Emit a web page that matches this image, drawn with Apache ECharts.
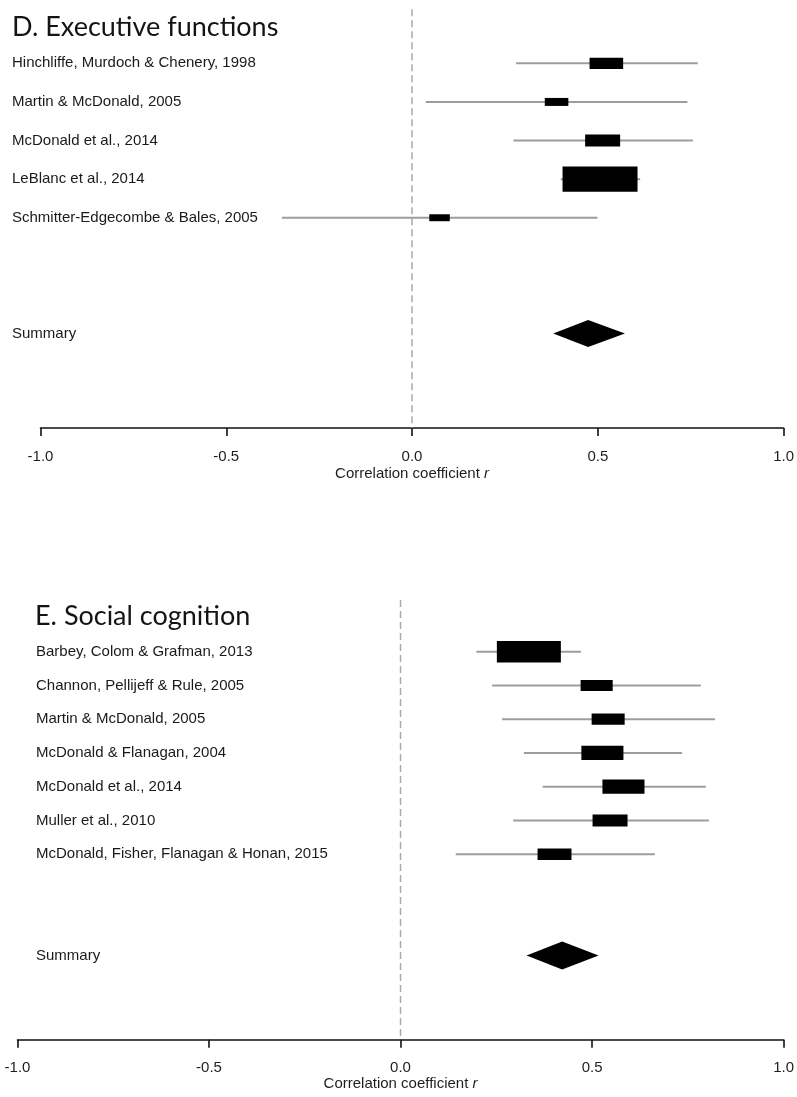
<!DOCTYPE html>
<html>
<head>
<meta charset="utf-8">
<script src="https://cdn.jsdelivr.net/npm/echarts@6/dist/echarts.min.js"></script>
<style>
html,body{margin:0;padding:0;background:#fff;}
#c{width:797px;height:1097px;}
</style>
</head>
<body>
<div id="c"></div>
<script>
// ---------------- DATA ----------------
const xTicks = [-1.0, -0.5, 0.0, 0.5, 1.0];
const panelTitles = ['D. Executive functions', 'E. Social cognition'];
const axisTitleText = 'Correlation coefficient ';
const axisTitleVar = 'r';
const summaryLabel = 'Summary';

// Panel D: Executive functions
const execStudies = [
  'Hinchliffe, Murdoch & Chenery, 1998',
  'Martin & McDonald, 2005',
  'McDonald et al., 2014',
  'LeBlanc et al., 2014',
  'Schmitter-Edgecombe & Bales, 2005'
];
const execEst = [0.523, 0.389, 0.513, 0.506, 0.074];
const execLo  = [0.280, 0.037, 0.273, 0.400, -0.350];
const execHi  = [0.769, 0.741, 0.756, 0.614, 0.499];
const execWeight = [12.6, 6.2, 13.7, 62.8, 4.7];
const execSummaryEst = 0.474;
const execSummaryLo = 0.380;
const execSummaryHi = 0.573;

// Panel E: Social cognition
const socStudies = [
  'Barbey, Colom & Grafman, 2013',
  'Channon, Pellijeff & Rule, 2005',
  'Martin & McDonald, 2005',
  'McDonald & Flanagan, 2004',
  'McDonald et al., 2014',
  'Muller et al., 2010',
  'McDonald, Fisher, Flanagan & Honan, 2015'
];
const socEst = [0.335, 0.512, 0.542, 0.527, 0.582, 0.547, 0.402];
const socLo  = [0.198, 0.239, 0.265, 0.322, 0.371, 0.294, 0.144];
const socHi  = [0.471, 0.784, 0.821, 0.735, 0.797, 0.805, 0.664];
const socWeight = [33.8, 8.5, 9.0, 14.6, 14.6, 10.1, 9.5];
const socSummaryEst = 0.422;
const socSummaryLo = 0.329;
const socSummaryHi = 0.517;

// ---------------- STYLE / LAYOUT ----------------
const LABEL_FONT = "'Liberation Sans', Arial, Helvetica, sans-serif";
const TITLE_FONT = "Lato, 'Open Sans', sans-serif";
const BOX_ASPECT = 2.95;

const panels = [
  {
    title: panelTitles[0], names: execStudies, est: execEst, lo: execLo, hi: execHi, w: execWeight,
    sEst: execSummaryEst, sLo: execSummaryLo, sHi: execSummaryHi,
    grid: { left: 40.5, right: 12, top: 9.3, height: 418.8 },
    yMin: -1.4, yMax: 9.45, labelX: 12, titleX: 12, titleY: 27, boxMax: 75, diamondHalf: 13.5,
    labelMargin: 21, nameGap: 38.5
  },
  {
    title: panelTitles[1], names: socStudies, est: socEst, lo: socLo, hi: socHi, w: socWeight,
    sEst: socSummaryEst, sLo: socSummaryLo, sHi: socSummaryHi,
    grid: { left: 17.5, right: 10, top: 600.1, height: 439.7 },
    yMin: -1.53, yMax: 11.5, labelX: 36, titleX: 35, titleY: 616.5, boxMax: 64, diamondHalf: 14,
    labelMargin: 21, nameGap: 37
  }
];

const grids = [], xAxes = [], yAxes = [], series = [], graphics = [];

panels.forEach((p, pi) => {
  grids.push(p.grid);
  xAxes.push({
    gridIndex: pi, type: 'value', min: -1, max: 1, interval: 0.5,
    axisLine: { show: true, onZero: false, lineStyle: { color: '#111', width: 1.6 } },
    axisTick: { show: true, length: 8, customValues: xTicks, lineStyle: { color: '#111', width: 1.6 } },
    axisLabel: {
      customValues: xTicks, formatter: v => Number(v).toFixed(1), margin: p.labelMargin,
      fontFamily: LABEL_FONT, fontSize: 15, color: '#1e1e1e', showMinLabel: true, showMaxLabel: true
    },
    splitLine: { show: false },
    name: '{a|' + axisTitleText + '}{b|' + axisTitleVar + '}',
    nameLocation: 'middle', nameGap: p.nameGap,
    nameTextStyle: {
      rich: {
        a: { fontFamily: LABEL_FONT, fontSize: 15, color: '#1e1e1e' },
        b: { fontFamily: LABEL_FONT, fontSize: 15, color: '#1e1e1e', fontStyle: 'italic' }
      }
    }
  });
  yAxes.push({ gridIndex: pi, type: 'value', min: p.yMin, max: p.yMax, inverse: true, show: false });

  const n = p.names.length;
  const summaryRow = n + 2;
  const wMax = Math.max(...p.w);

  // zero reference line
  series.push({
    type: 'custom', xAxisIndex: pi, yAxisIndex: pi, silent: true, clip: false,
    data: [[0]],
    renderItem: (params, api) => {
      const a = api.coord([api.value(0), p.yMin]);
      const b = api.coord([api.value(0), p.yMax]);
      return { type: 'line', shape: { x1: a[0], y1: a[1], x2: b[0], y2: b[1] },
        style: { stroke: '#ababab', lineWidth: 1.5, lineDash: [7, 4] } };
    }
  });

  // study CIs and boxes
  series.push({
    type: 'custom', xAxisIndex: pi, yAxisIndex: pi, silent: true, clip: false,
    data: p.names.map((nm, i) => [p.lo[i], p.hi[i], p.est[i], i, p.w[i]]),
    renderItem: (params, api) => {
      const lo = api.value(0), hi = api.value(1), est = api.value(2), row = api.value(3), w = api.value(4);
      const a = api.coord([lo, row]), b = api.coord([hi, row]), c = api.coord([est, row]);
      const bw = p.boxMax * Math.sqrt(w / wMax), bh = bw / BOX_ASPECT;
      return { type: 'group', children: [
        { type: 'line', shape: { x1: a[0], y1: a[1], x2: b[0], y2: b[1] }, style: { stroke: '#9d9d9d', lineWidth: 2 } },
        { type: 'rect', shape: { x: c[0] - bw / 2, y: c[1] - bh / 2, width: bw, height: bh }, style: { fill: '#000' } }
      ]};
    }
  });

  // summary diamond
  series.push({
    type: 'custom', xAxisIndex: pi, yAxisIndex: pi, silent: true, clip: false,
    data: [[p.sLo, p.sHi, p.sEst, summaryRow]],
    renderItem: (params, api) => {
      const l = api.coord([api.value(0), api.value(3)]);
      const r = api.coord([api.value(1), api.value(3)]);
      const c = api.coord([api.value(2), api.value(3)]);
      const h = p.diamondHalf;
      return { type: 'polygon', shape: { points: [[l[0], l[1]], [c[0], c[1] - h], [r[0], r[1]], [c[0], c[1] + h]] },
        style: { fill: '#000' } };
    }
  });

  // row labels
  const labelData = p.names.map((nm, i) => [i, nm]).concat([[summaryRow, summaryLabel]]);
  series.push({
    type: 'custom', xAxisIndex: pi, yAxisIndex: pi, silent: true, clip: false,
    data: labelData,
    renderItem: (params, api) => {
      const item = labelData[params.dataIndex];
      const y = api.coord([0, item[0]])[1];
      return { type: 'text', x: p.labelX, y: y,
        style: { text: item[1], fill: '#1a1a1a', align: 'left', verticalAlign: 'middle',
          fontFamily: LABEL_FONT, fontSize: 15 } };
    }
  });

  graphics.push({ type: 'text', x: p.titleX, y: p.titleY,
    style: { text: p.title, fill: '#141414', fontFamily: TITLE_FONT, fontSize: 27, verticalAlign: 'middle', align: 'left' } });
});

const chart = echarts.init(document.getElementById('c'), null, { renderer: 'canvas' });
chart.setOption({
  backgroundColor: '#fff',
  animation: false,
  grid: grids,
  xAxis: xAxes,
  yAxis: yAxes,
  series: series,
  graphic: graphics
});
</script>
</body>
</html>
